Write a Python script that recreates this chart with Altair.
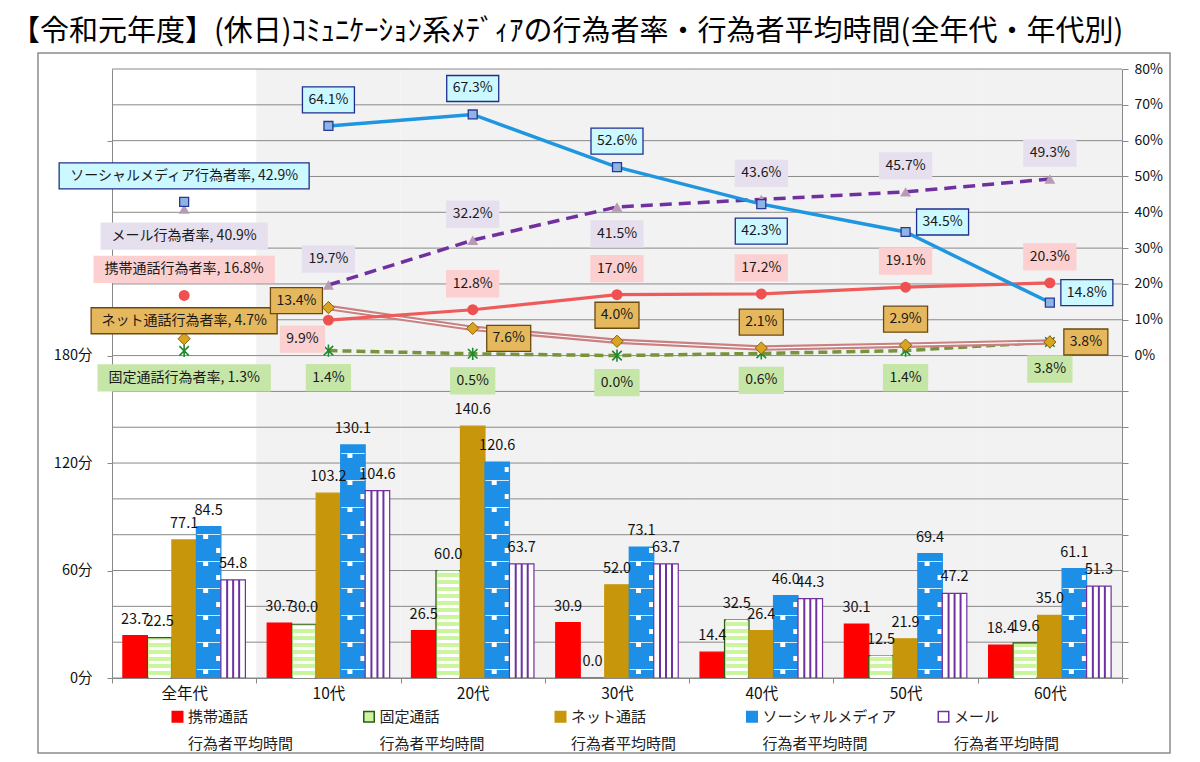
import altair as alt
import pandas as pd

# ---------------- data ----------------
categories = ["全年代", "10代", "20代", "30代", "40代", "50代", "60代"]

bar_series = ["携帯通話", "固定通話", "ネット通話", "ソーシャルメディア", "メール"]
time_keitai = [23.7, 30.7, 26.5, 30.9, 14.4, 30.1, 18.4]
time_kotei = [22.5, 30.0, 60.0, 0.0, 32.5, 12.5, 19.6]
time_net = [77.1, 103.2, 140.6, 52.0, 26.4, 21.9, 35.0]
time_sns = [84.5, 130.1, 120.6, 73.1, 46.0, 69.4, 61.1]
time_mail = [54.8, 104.6, 63.7, 63.7, 44.3, 47.2, 51.3]

rate_series = ["固定通話", "ネット通話", "携帯通話", "メール", "ソーシャルメディア"]
rate_kotei = [1.3, 1.4, 0.5, 0.0, 0.6, 1.4, 3.8]
rate_net = [4.7, 13.4, 7.6, 4.0, 2.1, 2.9, 3.8]
rate_keitai = [16.8, 9.9, 12.8, 17.0, 17.2, 19.1, 20.3]
rate_mail = [40.9, 19.7, 32.2, 41.5, 43.6, 45.7, 49.3]
rate_sns = [42.9, 64.1, 67.3, 52.6, 42.3, 34.5, 14.8]

# label placement hints (where the value box sits relative to its point)
side_kotei = ["below", "below", "below", "below", "below", "below", "below"]
side_net = ["aboveclose", "upleft", "downright", "above", "above", "above", "right"]
side_keitai = ["above", "downleft", "above", "above", "above", "above", "above"]
side_mail = ["below", "above", "above", "below", "above", "above", "above"]
side_sns = ["above", "above", "above", "above", "below", "upright", "upright"]

minute_ticks = [0, 60, 120, 180, 240, 300]
grid_minutes = [0, 20, 40, 60, 80, 100, 120, 140, 160, 180, 200, 220, 240, 260, 280, 300, 320, 340]
pct_ticks = [-90, -80, -70, -60, -50, -40, -30, -20, -10, 0, 10, 20, 30, 40, 50, 60, 70, 80]

legend_second_line = "行為者平均時間"
title_text = "【令和元年度】(休日)ｺﾐｭﾆｹｰｼｮﾝ系ﾒﾃﾞｨｱの行為者率・行為者平均時間(全年代・年代別)"

# ---------------- tables ----------------
bar_rows = []
for s, vals in zip(bar_series, [time_keitai, time_kotei, time_net, time_sns, time_mail]):
    for c, v in zip(categories, vals):
        bar_rows.append({"cat": c, "series": s, "minutes": v})
bars_df = pd.DataFrame(bar_rows)

rate_rows = []
for s, vals, sides in zip(rate_series,
                          [rate_kotei, rate_net, rate_keitai, rate_mail, rate_sns],
                          [side_kotei, side_net, side_keitai, side_mail, side_sns]):
    for c, v, sd in zip(categories, vals, sides):
        lab = f"{s}行為者率, {v:.1f}%" if c == "全年代" else f"{v:.1f}%"
        rate_rows.append({"cat": c, "series": s, "rate": v, "side": sd, "label": lab})
rate_df = pd.DataFrame(rate_rows)

# ---------------- styling ----------------
FONT = "Noto Sans CJK JP"
W, H = 1010, 609
BAR_W = 24.5

bar_fill = ["#ff0000", "#ccf5a0", "#c8960a", "#1e8fe6", "#ffffff"]
bar_stroke = ["#ff0000", "#2d5a14", "#c8960a", "#1e8fe6", "#7030a0"]

x_enc = alt.X(
    "cat:N", sort=categories,
    scale=alt.Scale(domain=categories, paddingInner=0, paddingOuter=0),
    axis=alt.Axis(title=None, labelAngle=0, labelFontSize=15.5, labelColor="#111",
                  tickBand="extent", tickSize=5, tickColor="#888", domainColor="#888",
                  labelPadding=3, grid=False),
)

y_min_scale = alt.Scale(domain=[0, 340], nice=False, zero=True)
left_axis = alt.Axis(orient="left", values=minute_ticks,
                     labelExpr="datum.value <= 180 ? datum.value + '分' : ''",
                     grid=False, tickSize=5, tickColor="#888", domainColor="#888",
                     labelFontSize=14.5, labelColor="#111", title=None, labelPadding=15)

y_rate_scale = alt.Scale(domain=[-90, 80], nice=False, zero=False)
right_axis = alt.Axis(orient="right", values=pct_ticks,
                      labelExpr="datum.value >= 0 ? datum.value + '%' : ''",
                      grid=False, tickSize=6, tickColor="#888", domainColor="#888",
                      labelFontSize=14, labelColor="#111", title=None, labelPadding=6)


def ymin(field):
    return alt.Y(field, scale=y_min_scale, axis=left_axis)


def yrate(field="rate:Q"):
    return alt.Y(field, scale=y_rate_scale, axis=right_axis)


legend = alt.Legend(
    title=None, orient="none", legendX=58, legendY=640, direction="horizontal",
    columns=5, gridAlign="all", columnPadding=36.5, symbolType="square", symbolSize=110,
    symbolStrokeWidth=1.5, labelFontSize=15, labelColor="#222", labelOffset=3,
    labelExpr=f"[datum.label, '{legend_second_line}']", padding=0, labelLimit=300,
)

# ---------------- bar group (minutes, left axis) ----------------
bar_layers = []

frame = alt.Chart(pd.DataFrame({"f": [0]})).mark_rect(
    fill="transparent", stroke="#8c8c8c", strokeWidth=1.5, clip=False
).encode(x=alt.value(-74), x2=alt.value(1058), y=alt.value(-16), y2=alt.value(684))
bar_layers.append(frame)

bg = alt.Chart(pd.DataFrame({"cat": categories[1:]})).mark_rect(color="#f2f2f2").encode(
    x=x_enc, y=alt.value(0), y2=alt.value(H))
bar_layers.append(bg)

grid = alt.Chart(pd.DataFrame({"g": grid_minutes})).mark_rule(color="#8a8a8a", strokeWidth=1).encode(
    y=ymin("g:Q"))
bar_layers.append(grid)

label_layers = []
for i, s in enumerate(bar_series):
    off = (i - 2) * BAR_W
    base = alt.Chart(bars_df).transform_filter(alt.datum.series == s)
    bar_layers.append(
        base.mark_bar(width=BAR_W, xOffset=off, strokeWidth=1.2).encode(
            x=x_enc,
            y=ymin("minutes:Q"),
            fill=alt.Fill("series:N", scale=alt.Scale(domain=bar_series, range=bar_fill), legend=legend),
            stroke=alt.Stroke("series:N", scale=alt.Scale(domain=bar_series, range=bar_stroke), legend=legend),
        )
    )
    zbase = base.transform_calculate(zero="0")
    if s == "固定通話":
        bar_layers.append(
            zbase.mark_rule(color="white", strokeWidth=BAR_W - 3, strokeDash=[3, 4], strokeCap="butt", xOffset=off)
            .encode(x=x_enc, y=ymin("zero:Q"), y2="minutes:Q"))
    if s == "ソーシャルメディア":
        bar_layers.append(
            zbase.mark_rule(color="white", strokeWidth=BAR_W - 1, strokeDash=[1, 26], strokeCap="butt",
                            strokeDashOffset=-8, opacity=0.8, xOffset=off)
            .encode(x=x_enc, y=ymin("zero:Q"), y2="minutes:Q"))
        bar_layers.append(
            zbase.mark_rule(color="white", strokeWidth=5, strokeDash=[5, 22], strokeCap="butt",
                            strokeDashOffset=-4, xOffset=off - 3)
            .encode(x=x_enc, y=ymin("zero:Q"), y2="minutes:Q"))
        bar_layers.append(
            zbase.mark_rule(color="white", strokeWidth=4, strokeDash=[5, 22], strokeCap="butt",
                            strokeDashOffset=-17, xOffset=off + 9.5)
            .encode(x=x_enc, y=ymin("zero:Q"), y2="minutes:Q"))
    if s == "メール":
        for k in (-6, 0, 6):
            bar_layers.append(
                zbase.mark_rule(color="#7030a0", strokeWidth=2, strokeCap="butt", xOffset=off + k)
                .encode(x=x_enc, y=ymin("zero:Q"), y2="minutes:Q"))
    label_layers.append(
        base.mark_text(xOffset=off, dy=-12, baseline="alphabetic", align="center",
                       fontSize=14.5, color="#111").encode(
            x=x_enc, y=ymin("minutes:Q"),
            text=alt.Text("minutes:Q", format=".1f"))
    )

bar_group = alt.layer(*(bar_layers + label_layers))

# ---------------- line group (rates, right axis) ----------------
line_styles = {
    "固定通話": dict(color="#77933c", width=3.5, dash=[9, 5]),
    "ネット通話": dict(color="#c98080", width=5.5, dash=None),
    "携帯通話": dict(color="#ef5a5a", width=3.2, dash=None),
    "メール": dict(color="#7030a0", width=3.5, dash=[12, 7]),
    "ソーシャルメディア": dict(color="#1e96e0", width=3.4, dash=None),
}
point_styles = {
    "固定通話": dict(shape="M-1,-1L1,1M-1,1L1,-1M0,-1.3L0,1.3", size=90, filled=False,
                   color="#1e8a2e", strokeWidth=1.6),
    "ネット通話": dict(shape="diamond", size=150, filled=True, fill="#d9a520",
                    stroke="#8a6010", strokeWidth=1),
    "携帯通話": dict(shape="circle", size=120, filled=True, fill="#ef5050", strokeWidth=0),
    "メール": dict(shape="triangle-up", size=120, filled=True, fill="#b99ab5", strokeWidth=0),
    "ソーシャルメディア": dict(shape="square", size=80, filled=True, fill="#8eb4e3",
                        stroke="#26389a", strokeWidth=1.3),
}

rate_base = alt.Chart(rate_df)
line_layers = []
for s in rate_series:
    st = line_styles[s]
    base = rate_base.transform_filter(alt.datum.series == s)
    kw = dict(color=st["color"], strokeWidth=st["width"])
    if st["dash"]:
        kw["strokeDash"] = st["dash"]
    line_layers.append(
        base.transform_filter(alt.datum.cat != "全年代").mark_line(**kw).encode(x=x_enc, y=yrate()))
    if s == "ネット通話":
        line_layers.append(
            base.transform_filter(alt.datum.cat != "全年代").mark_line(color="white", strokeWidth=1.2)
            .encode(x=x_enc, y=yrate()))

for s in rate_series:
    base = rate_base.transform_filter(alt.datum.series == s)
    line_layers.append(base.mark_point(opacity=1, **point_styles[s]).encode(x=x_enc, y=yrate()))

box_fill_expr = ("{'ソーシャルメディア':'#ccf8ff','メール':'#e6e0ee','携帯通話':'#fcd0d0',"
                 "'ネット通話':'#e5b85e','固定通話':'#c6e6a8'}[datum.series]")
box_stroke_expr = ("{'ソーシャルメディア':'#1f2f8f','メール':'#e6e0ee','携帯通話':'#fcd0d0',"
                   "'ネット通話':'#6b4a10','固定通話':'#c6e6a8'}[datum.series]")

boxed = rate_base.transform_calculate(
    nfull="length(replace(datum.label, regexp('[ -~]', 'g'), ''))",
).transform_calculate(
    bw="datum.nfull * 14 + (length(datum.label) - datum.nfull) * 8 + 12",
).transform_calculate(
    hl="datum.bw / 20",
).transform_calculate(
    path="'M' + (-datum.hl) + ',-1.3H' + datum.hl + 'V1.3H' + (-datum.hl) + 'Z'",
    boxfill=box_fill_expr,
    boxstroke=box_stroke_expr,
)

side_offsets = {
    "above": (0, -26), "below": (0, 27), "aboveclose": (0, -18),
    "upleft": (-32, -7), "downleft": (-26, 19), "right": (36, 0),
    "upright": (37, -10), "downright": (36, 10),
}
for sd, (dx, dy) in side_offsets.items():
    b = boxed.transform_filter(alt.datum.side == sd)
    line_layers.append(
        b.mark_point(filled=True, size=400, opacity=1, strokeWidth=1.3, xOffset=dx, yOffset=dy).encode(
            x=x_enc, y=yrate(),
            shape=alt.Shape("path:N", scale=None),
            fill=alt.Fill("boxfill:N", scale=None),
            stroke=alt.Stroke("boxstroke:N", scale=None),
        ))
    line_layers.append(
        b.mark_text(dx=dx, dy=dy, fontSize=14, color="#1a1a1a", align="center", baseline="middle").encode(
            x=x_enc, y=yrate(), text="label:N"))

line_group = alt.layer(*line_layers)

chart = alt.layer(bar_group, line_group).resolve_scale(y="independent").properties(
    width=W, height=H,
    autosize=alt.AutoSizeParams(type="none"),
    padding={"left": 104, "top": 61, "right": 70, "bottom": 76},
    title=alt.TitleParams(text=title_text, anchor="start", frame="group", dx=-101, offset=5,
                          fontSize=29, fontWeight="normal", color="#000", font=FONT),
).configure(
    view={"stroke": None},
    axis={"labelFont": FONT},
    legend={"labelFont": FONT},
    text={"font": FONT},
    style={"guide-label": {"lineHeight": 27}},
)

chart.save("out.html", embed_options={"renderer": "svg", "actions": False})
